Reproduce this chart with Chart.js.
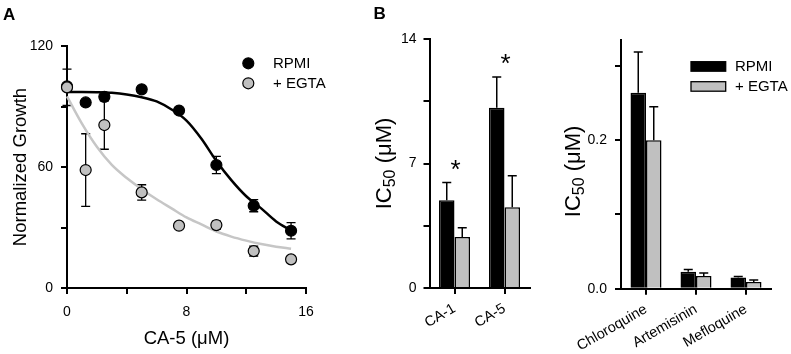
<!DOCTYPE html>
<html><head><meta charset="utf-8">
<script src="https://cdn.jsdelivr.net/npm/chart.js@4.4.0/dist/chart.umd.min.js"></script>
<style>
html,body{margin:0;padding:0;background:#fff;width:791px;height:354px;overflow:hidden;}
canvas{position:absolute;top:0;}
#cA{left:0}#cB{left:365px}#cC{left:560px}
</style></head><body>
<canvas id="cA" width="365" height="354"></canvas>
<canvas id="cB" width="195" height="354"></canvas>
<canvas id="cC" width="231" height="354"></canvas>
<script>
// ---------- Panel A data ----------
const concA = [0, 1.25, 2.5, 5, 7.5, 10, 12.5, 15];
const rpmiGrowth = [100, 92, 94.8, 98.5, 88, 61, 40.8, 28.4];
const rpmiGrowthErr = [0, 0, 0, 0, 0, 4.3, 3, 4];
const egtaGrowth = [99.5, 58.5, 80.8, 47.4, 30.9, 31.2, 18.3, 14.2];
const egtaGrowthErr = [9, 18, 12, 3.8, 0, 2, 2.5, 0];
const fitX = [0, 1, 2, 3, 4, 5, 6, 7, 8, 9, 10, 11, 12, 13, 14, 15];
const rpmiFit = [97.2, 97.2, 97.1, 96.8, 96, 94.6, 92.5, 88.5, 83, 74, 63, 53.5, 45.5, 39.5, 33, 28.5];
const egtaFit = [95, 81.5, 70, 61, 54.5, 49, 44, 39.5, 35, 31.5, 28, 25.5, 23.5, 21.8, 20.5, 19.5];
const ticksA_x = [0, 8, 16];
const ticksA_y = [0, 60, 120];

// ---------- Panel B data ----------
const compoundsB = ['CA-1', 'CA-5'];
const ic50B_rpmi = [4.93, 10.14];
const ic50B_rpmiErr = [1.0, 1.72];
const ic50B_egta = [2.87, 4.54];
const ic50B_egtaErr = [0.52, 1.77];
const significantB = [true, true];
const ticksB_y = [0, 7, 14];

// ---------- Panel C data ----------
const drugsC = ['Chloroquine', 'Artemisinin', 'Mefloquine'];
const ic50C_rpmi = [0.264, 0.023, 0.015];
const ic50C_rpmiErr = [0.055, 0.003, 0.0015];
const ic50C_egta = [0.200, 0.017, 0.009];
const ic50C_egtaErr = [0.045, 0.004, 0.0027];
const ticksC_y = [0, 0.2];

const FONT = "'Liberation Sans', Arial, Helvetica, sans-serif";
Chart.defaults.font.family = FONT;
Chart.defaults.color = '#000';
Chart.defaults.animation = false;

const GRAY = '#c0c0c0';
const tickGrid = {drawOnChartArea:false, drawTicks:true, tickLength:6, color:'#000', lineWidth:2};
const axisBorder = {color:'#000', width:2};

function near(v, list){ return list.some(t => Math.abs(t - v) < 1e-6); }

// error bars (scatter, both directions)
const errA = {
  id:'errA',
  beforeDatasetsDraw(chart){
    const {ctx, scales:{x, y}} = chart;
    ctx.save(); ctx.strokeStyle = '#000'; ctx.lineWidth = 1.3;
    const draw = (vals, errs) => {
      concA.forEach((xv, i) => {
        const e = errs[i]; if (!e) return;
        const px = x.getPixelForValue(xv);
        const t = y.getPixelForValue(vals[i] + e), b = y.getPixelForValue(vals[i] - e);
        ctx.beginPath();
        ctx.moveTo(px, t); ctx.lineTo(px, b);
        ctx.moveTo(px - 4.5, t); ctx.lineTo(px + 4.5, t);
        ctx.moveTo(px - 4.5, b); ctx.lineTo(px + 4.5, b);
        ctx.stroke();
      });
    };
    draw(rpmiGrowth, rpmiGrowthErr);
    draw(egtaGrowth, egtaGrowthErr);
    ctx.restore();
  }
};

// error bars for bar charts (upward only)
function barErrPlugin(id, errLists){
  return {
    id,
    afterDatasetsDraw(chart){
      const {ctx, scales:{y}} = chart;
      ctx.save(); ctx.strokeStyle = '#000'; ctx.lineWidth = 1.5;
      errLists.forEach((errs, di) => {
        const meta = chart.getDatasetMeta(di);
        const vals = chart.data.datasets[di].data;
        meta.data.forEach((bar, i) => {
          const px = bar.x;
          const t = y.getPixelForValue(vals[i] + errs[i]);
          const b = bar.y;
          ctx.beginPath();
          ctx.moveTo(px, b); ctx.lineTo(px, t);
          ctx.moveTo(px - 4.5, t); ctx.lineTo(px + 4.5, t);
          ctx.stroke();
        });
      });
      ctx.restore();
    }
  };
}

// rotated IC50 title
function ic50Title(id, cx, dy){
  return {
    id,
    afterDraw(chart){
      const {ctx, chartArea} = chart;
      const cy = (chartArea.top + chartArea.bottom) / 2 + dy;
      const big = '22px ' + FONT, small = '16px ' + FONT;
      ctx.save();
      ctx.translate(cx, cy); ctx.rotate(-Math.PI/2);
      ctx.fillStyle = '#000'; ctx.textBaseline = 'alphabetic'; ctx.textAlign = 'left';
      ctx.font = big; const w1 = ctx.measureText('IC').width;
      ctx.font = small; const w2 = ctx.measureText('50').width;
      ctx.font = big; const w3 = ctx.measureText(' (\u03bcM)').width;
      let x0 = -(w1 + w2 + w3) / 2; const base = 8;
      ctx.font = big; ctx.fillText('IC', x0, base); x0 += w1;
      ctx.font = small; ctx.fillText('50', x0, base + 4); x0 += w2;
      ctx.font = big; ctx.fillText(' (\u03bcM)', x0, base);
      ctx.restore();
    }
  };
}

// panel letter
function panelLetter(id, letter, x, y){
  return {id, afterDraw(chart){
    const ctx = chart.ctx; ctx.save();
    ctx.font = 'bold 17px ' + FONT; ctx.fillStyle = '#000'; ctx.textBaseline = 'alphabetic';
    ctx.fillText(letter, x, y); ctx.restore();
  }};
}

// ---------- Chart A ----------
const legendA = {
  id:'legendA',
  afterDraw(chart){
    const ctx = chart.ctx;
    const items = [chart.data.datasets[1], chart.data.datasets[0]];
    ctx.save();
    items.forEach((ds, i) => {
      const cy = 63.3 + i * 20;
      ctx.beginPath(); ctx.arc(248.3, cy, 5.5, 0, Math.PI*2);
      ctx.fillStyle = ds.backgroundColor; ctx.fill();
      ctx.lineWidth = 1.2; ctx.strokeStyle = '#000'; ctx.stroke();
      ctx.fillStyle = '#000'; ctx.font = '15px ' + FONT; ctx.textBaseline = 'middle';
      ctx.fillText(ds.label, 273, cy + 1);
    });
    ctx.restore();
  }
};

new Chart(document.getElementById('cA'), {
  type:'scatter',
  data:{datasets:[
    {label:'+ EGTA', data:concA.map((x,i)=>({x, y:egtaGrowth[i]})), backgroundColor:GRAY, borderColor:'#000', borderWidth:1.2, pointRadius:5.5, clip:false},
    {label:'RPMI', data:concA.map((x,i)=>({x, y:rpmiGrowth[i]})), backgroundColor:'#000', borderColor:'#000', borderWidth:1.2, pointRadius:5.5, clip:false},
    {label:'RPMI fit', data:fitX.map((x,i)=>({x, y:rpmiFit[i]})), showLine:true, borderColor:'#000', borderWidth:2.5, pointRadius:0, cubicInterpolationMode:'monotone', clip:false},
    {label:'EGTA fit', data:fitX.map((x,i)=>({x, y:egtaFit[i]})), showLine:true, borderColor:'#c6c6c6', borderWidth:2.5, pointRadius:0, cubicInterpolationMode:'monotone', clip:false}
  ]},
  options:{
    responsive:false, devicePixelRatio:1, animation:false,
    layout:{padding:{left:0, top:46, right:59, bottom:0}},
    plugins:{legend:{display:false}, tooltip:{enabled:false}},
    scales:{
      x:{type:'linear', min:0, max:16,
         ticks:{stepSize:4, autoSkip:false, font:{size:14}, padding:10, maxRotation:0,
                callback:v => near(v, ticksA_x) ? String(v) : ''},
         grid:tickGrid, border:axisBorder,
         title:{display:true, text:'CA-5 (\u03bcM)', font:{size:18.5}, padding:{top:0, bottom:4}},
         afterFit:s => { s.height = 66; }},
      y:{type:'linear', min:0, max:120,
         ticks:{stepSize:30, autoSkip:false, font:{size:14}, padding:8,
                callback:v => near(v, ticksA_y) ? String(v) : ''},
         grid:tickGrid, border:axisBorder,
         title:{display:true, text:'Normalized Growth', font:{size:18.5}, padding:{top:10, bottom:0}},
         afterFit:s => { s.width = 67; }}
    }
  },
  plugins:[errA, legendA, panelLetter('lA', 'A', 3, 20)]
});

// ---------- Chart B ----------
const starsB = {
  id:'starsB',
  afterDatasetsDraw(chart){
    const {ctx, scales:{x, y}} = chart;
    ctx.save(); ctx.fillStyle = '#000'; ctx.font = '26px ' + FONT;
    ctx.textAlign = 'center'; ctx.textBaseline = 'alphabetic';
    compoundsB.forEach((c, i) => {
      if (!significantB[i]) return;
      const px = x.getPixelForValue(i) + 1;
      const top = y.getPixelForValue(ic50B_rpmi[i] + ic50B_rpmiErr[i]);
      ctx.fillText('*', px, top - 20 + 15);
    });
    ctx.restore();
  }
};

const barCommon = {borderColor:'#000', borderWidth:1.5, barPercentage:1, categoryPercentage:0.62};

new Chart(document.getElementById('cB'), {
  type:'bar',
  data:{labels:compoundsB, datasets:[
    Object.assign({label:'RPMI', data:ic50B_rpmi, backgroundColor:'#000'}, barCommon),
    Object.assign({label:'+ EGTA', data:ic50B_egta, backgroundColor:GRAY}, barCommon)
  ]},
  options:{
    responsive:false, devicePixelRatio:1, animation:false,
    layout:{padding:{left:0, top:39, right:30.5, bottom:0}},
    plugins:{legend:{display:false}, tooltip:{enabled:false}},
    scales:{
      x:{offset:true, ticks:{font:{size:14.5}, minRotation:30, maxRotation:30, padding:6, autoSkip:false},
         grid:Object.assign({offset:false}, tickGrid), border:axisBorder,
         afterFit:s => { s.height = 66; }},
      y:{type:'linear', min:0, max:14,
         ticks:{stepSize:3.5, autoSkip:false, font:{size:14}, padding:7,
                callback:v => near(v, ticksB_y) ? String(v) : ''},
         grid:tickGrid, border:axisBorder,
         afterFit:s => { s.width = 64.5; }}
    }
  },
  plugins:[barErrPlugin('errB', [ic50B_rpmiErr, ic50B_egtaErr]), starsB, ic50Title('tB', 18, 0), panelLetter('lB', 'B', 8.5, 18.5)]
});

// ---------- Chart C ----------
const legendC = {
  id:'legendC',
  afterDraw(chart){
    const ctx = chart.ctx;
    ctx.save();
    chart.data.datasets.forEach((ds, i) => {
      const top = 61.7 + i * 20;
      ctx.fillStyle = ds.backgroundColor;
      ctx.fillRect(131, top, 34.7, 9.5);
      ctx.lineWidth = 1.3; ctx.strokeStyle = '#000';
      ctx.strokeRect(131, top, 34.7, 9.5);
      ctx.fillStyle = '#000'; ctx.font = '15px ' + FONT; ctx.textBaseline = 'middle';
      ctx.fillText(ds.label, 175, top + 5.5);
    });
    ctx.restore();
  }
};

new Chart(document.getElementById('cC'), {
  type:'bar',
  data:{labels:drugsC, datasets:[
    Object.assign({label:'RPMI', data:ic50C_rpmi, backgroundColor:'#000'}, barCommon),
    Object.assign({label:'+ EGTA', data:ic50C_egta, backgroundColor:GRAY}, barCommon)
  ]},
  options:{
    responsive:false, devicePixelRatio:1, animation:false,
    layout:{padding:{left:0, top:40, right:20, bottom:0}},
    plugins:{legend:{display:false}, tooltip:{enabled:false}},
    scales:{
      x:{offset:true, ticks:{font:{size:14.5}, minRotation:30, maxRotation:30, padding:6, autoSkip:false},
         grid:Object.assign({offset:false}, tickGrid), border:axisBorder,
         afterFit:s => { s.height = 65.3; }},
      y:{type:'linear', min:0, max:0.335,
         ticks:{stepSize:0.1, includeBounds:false, autoSkip:false, font:{size:14}, padding:8,
                callback:v => near(v, ticksC_y) ? v.toFixed(1) : ''},
         grid:tickGrid, border:axisBorder,
         afterFit:s => { s.width = 61; }}
    }
  },
  plugins:[barErrPlugin('errC', [ic50C_rpmiErr, ic50C_egtaErr]), legendC, ic50Title('tC', 12, 7)]
});
</script>
</body></html>
